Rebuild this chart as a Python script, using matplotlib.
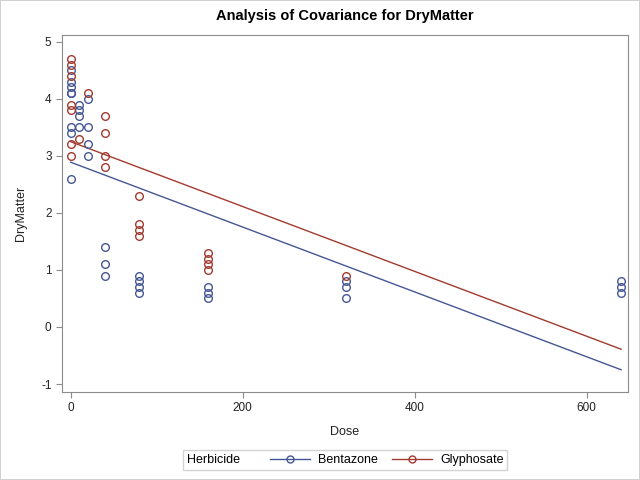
import matplotlib
matplotlib.use("Agg")
import matplotlib.pyplot as plt
from matplotlib.lines import Line2D
from matplotlib.offsetbox import HPacker

plt.rcParams['font.family'] = ['Liberation Sans', 'DejaVu Sans']
plt.rcParams['axes.unicode_minus'] = False

# --- data ---
bent_dose = [0, 0, 0, 0, 0, 0, 0, 0,
             10, 10, 10, 10,
             20, 20, 20, 20,
             40, 40, 40,
             80, 80, 80, 80,
             160, 160, 160,
             320, 320, 320,
             640, 640, 640]
bent_dm = [4.5, 4.3, 4.2, 4.1, 4.1, 3.5, 3.4, 2.6,
           3.9, 3.8, 3.7, 3.5,
           4.0, 3.5, 3.2, 3.0,
           1.4, 1.1, 0.9,
           0.9, 0.8, 0.7, 0.6,
           0.7, 0.6, 0.5,
           0.8, 0.7, 0.5,
           0.8, 0.7, 0.6]

gly_dose = [0, 0, 0, 0, 0, 0, 0,
            10,
            20,
            40, 40, 40, 40,
            80, 80, 80, 80,
            160, 160, 160, 160,
            320]
gly_dm = [4.7, 4.6, 4.4, 3.9, 3.8, 3.2, 3.0,
          3.3,
          4.1,
          3.7, 3.4, 3.0, 2.8,
          2.3, 1.8, 1.7, 1.6,
          1.3, 1.2, 1.1, 1.0,
          0.9]

# fitted lines (end points)
fit_dose = [0, 640]
fit_bent = [2.89, -0.75]
fit_gly = [3.25, -0.39]

blue = '#445694'
red = '#A23A2E'
gray = '#8c8c8c'

fig = plt.figure(figsize=(6.4, 4.8), dpi=100)
fig.patch.set_edgecolor('#d0d0d0')
fig.patch.set_linewidth(1.2)
ax = fig.add_axes([62/640, 88/480, 566/640, 357/480])

ax.plot(fit_dose, fit_bent, color=blue, lw=1)
ax.plot(fit_dose, fit_gly, color=red, lw=1)
ax.plot(bent_dose, bent_dm, 'o', mfc='none', mec=blue, ms=5.5, mew=1)
ax.plot(gly_dose, gly_dm, 'o', mfc='none', mec=red, ms=5.5, mew=1)

ax.set_xlim(-10, 648)
ax.set_ylim(-1.14, 5.12)
ax.set_xticks([0, 200, 400, 600])
ax.set_yticks([-1, 0, 1, 2, 3, 4, 5])
for s in ax.spines.values():
    s.set_color(gray)
ax.tick_params(colors=gray, labelcolor='#222222', labelsize=8.5, length=4)
ax.set_xlabel('Dose', fontsize=9, color='#222222', labelpad=8)
ax.set_ylabel('DryMatter', fontsize=9, color='#222222', labelpad=10)
ax.set_title('Analysis of Covariance for DryMatter', fontsize=10.5,
             fontweight='bold', pad=11)

handles = [Line2D([], [], color=blue, lw=1, marker='o', mfc='none', ms=5),
           Line2D([], [], color=red, lw=1, marker='o', mfc='none', ms=5)]
leg = fig.legend(handles, ['Bentazone', 'Glyphosate'], ncol=2,
                 title='Herbicide', title_fontsize=9, fontsize=9,
                 loc='center', bbox_to_anchor=(345/640, 20/480),
                 frameon=True, fancybox=False, edgecolor='#c8c8c8',
                 handlelength=3.2, columnspacing=1.2, handletextpad=0.6,
                 borderpad=0.3)
leg.get_frame().set_linewidth(1)
# put the title on the same row as the entries
leg._legend_box.__class__ = HPacker
leg._legend_box.align = 'center'
leg._legend_box.sep = 22

fig.savefig('out.png', dpi=100, edgecolor=fig.get_edgecolor())
